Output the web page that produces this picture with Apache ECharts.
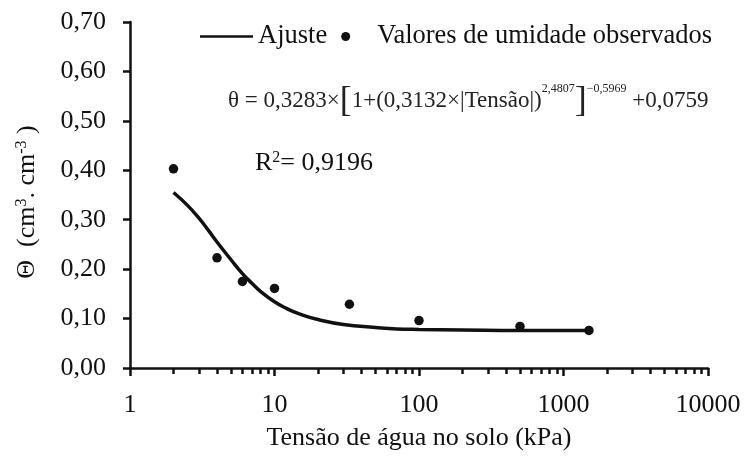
<!DOCTYPE html>
<html><head><meta charset="utf-8">
<script src="https://cdn.jsdelivr.net/npm/echarts@6/dist/echarts.min.js"></script>
<style>html,body{margin:0;padding:0;background:#fff}#c{width:744px;height:456px}</style>
</head><body><div id="c"></div>
<script>
// Fitted curve
const fitTension = [2, 2.5, 3, 3.5, 4, 5, 6, 7, 8, 10, 12, 15, 20, 30, 50, 70, 100, 200, 500, 1000, 1500];
const fitTheta   = [0.355, 0.329, 0.303, 0.278, 0.255, 0.219, 0.191, 0.171, 0.155, 0.134, 0.121, 0.109, 0.098, 0.088, 0.082, 0.079, 0.078, 0.077, 0.076, 0.076, 0.076];
// Observed values
const obsTension = [2, 4, 6, 10, 33, 100, 500, 1500];
const obsTheta   = [0.403, 0.223, 0.175, 0.161, 0.129, 0.096, 0.084, 0.076];
// Axis ticks
const xMajorTicks = [1, 10, 100, 1000, 10000];
const xMinorTicks = [2,3,4,5,6,7,8,9,20,30,40,50,60,70,80,90,200,300,400,500,600,700,800,900,2000,3000,4000,5000,6000,7000,8000,9000];
const seriesNames = ['Ajuste', 'Valores de umidade observados'];
const xTitle = 'Tensão de água no solo (kPa)';

const FONT = '"Liberation Serif","Times New Roman",serif';
const INK = '#111';
const FS = 26;

const chart = echarts.init(document.getElementById('c'), null, {renderer: 'canvas'});
chart.setOption({
  backgroundColor: '#fff',
  animation: false,
  textStyle: {fontFamily: FONT, color: INK},
  grid: {left: 130, right: 36, top: 22, bottom: 84, containLabel: false},
  legend: {
    data: [
      {name: seriesNames[0], icon: 'path://M0,0 M0,3.2 L53,3.2 L53,5.8 L0,5.8 Z M53,9'},
      {name: seriesNames[1], icon: 'circle'}
    ],
    left: 195, top: 18,
    itemWidth: 53, itemHeight: 9, itemGap: 14,
    textStyle: {fontFamily: FONT, fontSize: 26.5, color: INK}
  },
  xAxis: [{
    type: 'log', logBase: 10, min: 1, max: 10000,
    name: xTitle, nameLocation: 'middle', nameGap: 57,
    nameTextStyle: {fontFamily: FONT, fontSize: FS, color: INK},
    axisLine: {show: true, onZero: false, lineStyle: {color: INK, width: 2.5}},
    axisTick: {show: true, length: 8, lineStyle: {color: INK, width: 2.5}, customValues: xMajorTicks},
    axisLabel: {fontFamily: FONT, fontSize: FS, color: INK, margin: 24, customValues: xMajorTicks,
      formatter: v => String(Math.round(v))},
    splitLine: {show: false}, minorTick: {show: false}
  }, {
    type: 'log', logBase: 10, min: 1, max: 10000, position: 'bottom',
    axisLine: {show: false, onZero: false},
    axisTick: {show: true, length: 6, lineStyle: {color: INK, width: 2.5}, customValues: xMinorTicks},
    axisLabel: {show: false},
    splitLine: {show: false}
  }],
  yAxis: {
    type: 'value', min: 0, max: 0.7, interval: 0.1,
    name: '{th|Θ}  (cm{sup|3}. cm{sup|-3} )', nameLocation: 'middle', nameGap: 90, nameRotate: 90,
    nameTextStyle: {fontFamily: FONT, fontSize: FS, color: INK, padding: [0, 14, 0, 0],
      rich: {th: {fontFamily: FONT, fontSize: FS, color: INK}, sup: {fontFamily: FONT, fontSize: 16, color: INK, verticalAlign: 'top', padding: [0,0,10,0]}}},
    axisLine: {show: true, lineStyle: {color: INK, width: 2.5}},
    axisTick: {show: true, length: 7, lineStyle: {color: INK, width: 2.5}},
    axisLabel: {fontFamily: FONT, fontSize: FS, color: INK, margin: 24,
      formatter: v => v.toFixed(2).replace('.', ',')},
    splitLine: {show: false}
  },
  series: [{
    name: seriesNames[0], type: 'line', xAxisIndex: 0,
    data: fitTension.map((t, i) => [t, fitTheta[i]]),
    symbol: 'none', smooth: true,
    lineStyle: {color: INK, width: 3.5},
    itemStyle: {color: INK}
  }, {
    name: seriesNames[1], type: 'scatter', xAxisIndex: 0,
    data: obsTension.map((t, i) => [t, obsTheta[i]]),
    symbol: 'circle', symbolSize: 9.5,
    itemStyle: {color: INK, opacity: 1}
  }],
  graphic: [{
    type: 'text', left: 228, top: 83,
    style: {
      text: '{t|θ = 0,3283×}{b|[}{t|1+(0,3132×|Tensão|)}{s|2,4807}{b|]}{s|−0,5969}{t| +0,0759}',
      rich: {
        t: {fontFamily: FONT, fontSize: 23, lineHeight: 23, fill: '#222', verticalAlign: 'bottom', padding: [0, 0, 8, 0]},
        b: {fontFamily: FONT, fontSize: 36, lineHeight: 37, fill: '#222', verticalAlign: 'middle'},
        s: {fontFamily: FONT, fontSize: 12, lineHeight: 12, fill: '#222', verticalAlign: 'top'}
      }
    }
  }, {
    type: 'text', left: 255, top: 150,
    style: {
      text: 'R{s|2}= 0,9196',
      fontFamily: FONT, fontSize: FS, fill: INK,
      rich: {s: {fontFamily: FONT, fontSize: 16, fill: INK, verticalAlign: 'top'}}
    }
  }]
});
</script></body></html>
